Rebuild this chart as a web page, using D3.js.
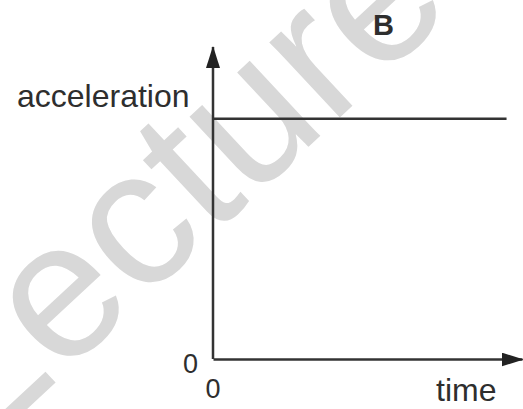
<!DOCTYPE html>
<html>
<head>
<meta charset="utf-8">
<script src="https://cdn.jsdelivr.net/npm/d3@7"></script>
<style>
  body { margin: 0; background: #fff; }
  text { font-family: "Liberation Sans", Arial, sans-serif; fill: #2e2e2e; }
</style>
</head>
<body>
<div class="canvas"></div>
<script>
// data: constant acceleration over time
const timeValues = [0, 0.95]
const accelValues = [0.77, 0.77]
const xTicks = [0]
const yTicks = [0]
const title = "B"
const xLabel = "time"
const yLabel = "acceleration"
const watermark = "Lecture"

/**
 * Graph dimensions
 */
const width = 523
const height = 409

const svg = d3.select(".canvas")
    .append("svg")
    .attr("width", width)
    .attr("height", height)

// watermark behind everything
svg.append("text")
    .attr("transform", "translate(-19,452) rotate(-43)")
    .style("font-size", "195px")
    .style("fill", "#d8d8d8")
    .text(watermark)

// arrow heads
const defs = svg.append("defs")
defs.append("marker")
    .attr("id", "arrow")
    .attr("viewBox", "0 0 22 14")
    .attr("refX", 21)
    .attr("refY", 7)
    .attr("markerWidth", 22)
    .attr("markerHeight", 14)
    .attr("markerUnits", "userSpaceOnUse")
    .attr("orient", "auto")
  .append("path")
    .attr("d", "M0,0 L22,7 L0,14 Z")
    .attr("fill", "#222")

/**
 * Scales & axis
 */
const x = d3.scaleLinear().domain([0, 1]).range([213, 522])
const y = d3.scaleLinear().domain([0, 1]).range([359, 47])

const xAxis = d3.axisBottom(x)
    .tickValues(xTicks)
    .tickFormat(d3.format("d"))
    .tickSize(0)
    .tickSizeOuter(0)
    .tickPadding(20)
const yAxis = d3.axisLeft(y)
    .tickValues(yTicks)
    .tickFormat(d3.format("d"))
    .tickSize(0)
    .tickSizeOuter(0)
    .tickPadding(15)

const xAxisGroup = svg.append("g")
    .attr("transform", `translate(0, ${y(0)})`)
    .call(xAxis)
const yAxisGroup = svg.append("g")
    .attr("transform", `translate(${x(0)}, 0)`)
    .call(yAxis)

// y axis drawn bottom-up so the arrow sits on top
yAxisGroup.select(".domain")
    .attr("d", `M0,${y(0)}V${y(1)}`)

svg.selectAll(".domain")
    .attr("stroke", "#333")
    .attr("stroke-width", 2.5)
    .attr("marker-end", "url(#arrow)")

svg.selectAll(".tick text")
    .style("font-size", "27px")
    .attr("fill", "#2e2e2e")
    .style("font-family", "'Liberation Sans', Arial, sans-serif")
xAxisGroup.selectAll(".tick text").attr("dx", "-0.02em")
yAxisGroup.selectAll(".tick text").attr("dy", "0.5em")

/**
 * Line
 */
const line = d3.line()
    .x((d, i) => x(timeValues[i]))
    .y((d, i) => y(accelValues[i]))

svg.append("path")
    .datum(timeValues)
    .attr("fill", "none")
    .attr("stroke", "#333")
    .attr("stroke-width", 2.5)
    .attr("d", line)

// annotations
svg.append("text")
    .attr("x", 17)
    .attr("y", 107)
    .style("font-size", "32px")
    .text(yLabel)

svg.append("text")
    .attr("x", 436)
    .attr("y", 401)
    .style("font-size", "32px")
    .text(xLabel)

svg.append("text")
    .attr("x", 373)
    .attr("y", 35)
    .style("font-size", "29px")
    .style("font-weight", "bold")
    .text(title)
</script>
</body>
</html>
